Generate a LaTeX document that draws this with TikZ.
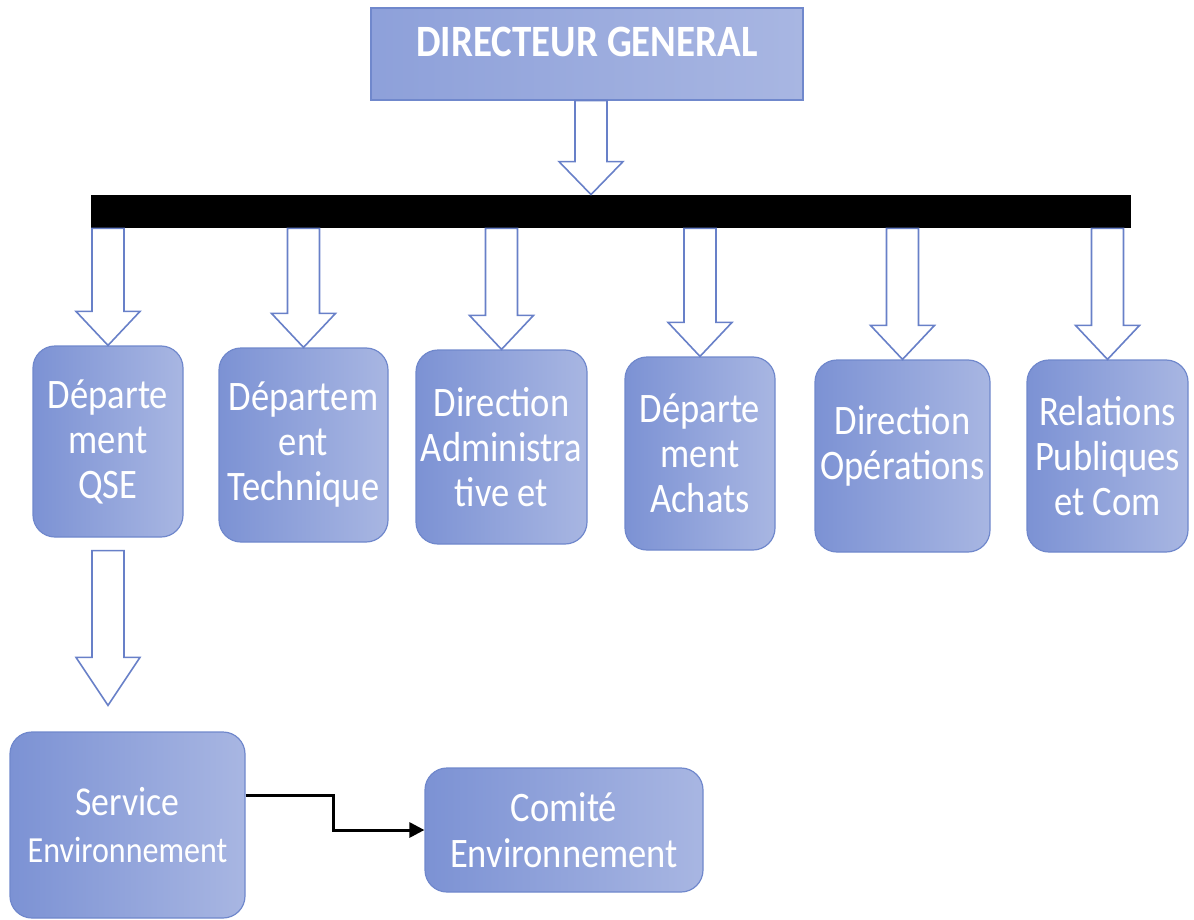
\documentclass[tikz,border=0pt]{standalone}
\usepackage{fontspec}
\setmainfont{Carlito}[FakeStretch=0.87]
\usepackage{tikz}
\usetikzlibrary{calc,arrows.meta}

\definecolor{boxdark}{RGB}{124,146,212}
\definecolor{boxlight}{RGB}{168,182,226}
\definecolor{boxline}{RGB}{112,136,204}
\definecolor{arrowline}{RGB}{104,128,200}

\tikzset{
  unit/.style={rounded corners=11pt, draw=boxline, line width=0.6pt,
    left color=boxdark, right color=boxlight, text=white, align=center,
    inner sep=0pt, font=\fontsize{21}{22.5}\selectfont},
  hollow/.style={draw=arrowline, fill=white, line width=0.8pt, line join=miter},
  link/.style={draw=black, line width=1.5pt, -{Triangle[length=7.5pt,width=7.5pt]}},
}

% hollow block arrow: start y from #2, x and tip from #3, #1 = head length
\newcommand{\hollowarrow}[3][17pt]{%
  \path[hollow] let \p1=(#2), \p2=(#3) in
    (\x2-8pt,\y1) -- (\x2-8pt,\y2+#1) -- (\x2-16pt,\y2+#1) -- (\x2,\y2)
    -- (\x2+16pt,\y2+#1) -- (\x2+8pt,\y2+#1) -- (\x2+8pt,\y1) -- cycle;}

\begin{document}
\begin{tikzpicture}[x=0.5pt,y=-0.5pt]
  \useasboundingbox (0,0) rectangle (1194,920);

  \node[unit, sharp corners, left color=boxdark!60!boxlight,
        font=\bfseries\fontsize{22.4}{24}\selectfont, text depth=12pt,
        minimum width=216pt, minimum height=46pt]       (top)    at (587,54)      {DIRECTEUR GENERAL};
  \node[fill=black, inner sep=0pt, minimum width=520pt,
        minimum height=16.5pt]                           (bar)    at (611,211.5)   {};

  \node[unit, minimum width=75pt,   minimum height=95.5pt] (qse)    at (108,441.5)   {Départe\\ment\\QSE};
  \node[unit, minimum width=84.5pt, minimum height=97pt]   (tech)   at (303.5,445)   {Départem\\ent\\Technique};
  \node[unit, minimum width=85.5pt, minimum height=97pt]   (admin)  at (501.5,447)   {Direction\\Administra\\tive et};
  \node[unit, minimum width=75pt,   minimum height=96.5pt] (achats) at (700,453.5)   {Départe\\ment\\Achats};
  \node[unit, minimum width=87.5pt, minimum height=96pt,
        text depth=14pt]                                   (ops)    at (902.5,456)   {Direction\\Opérations};
  \node[unit, minimum width=80.5pt, minimum height=96pt]   (rp)     at (1107.5,456)  {Relations\\Publiques\\et Com};

  \node[unit, font=\fontsize{18.4}{23.5}\selectfont,
        minimum width=117.5pt, minimum height=93pt]        (serv)   at (127.5,825)   {{\fontsize{20.5}{23.5}\selectfont Service}\\Environnement};
  \node[unit, font=\fontsize{21}{23}\selectfont,
        minimum width=139pt, minimum height=62pt]          (comite) at (564,830)     {Comité\\Environnement};

  % block arrows
  \hollowarrow[16.5pt]{top.south}{[xshift=2pt]top.south |- bar.north}
  \foreach \b in {qse,tech,admin,achats,ops,rp}
    \hollowarrow{bar.south}{\b.north};
  \hollowarrow[24pt]{[yshift=-6.5pt]qse.south}{$(qse.south |- serv.north)+(0,13pt)$}

  \draw[link] ([yshift=15pt]serv.east) -- ++(44pt,0) |- (comite.west);
\end{tikzpicture}
\end{document}
